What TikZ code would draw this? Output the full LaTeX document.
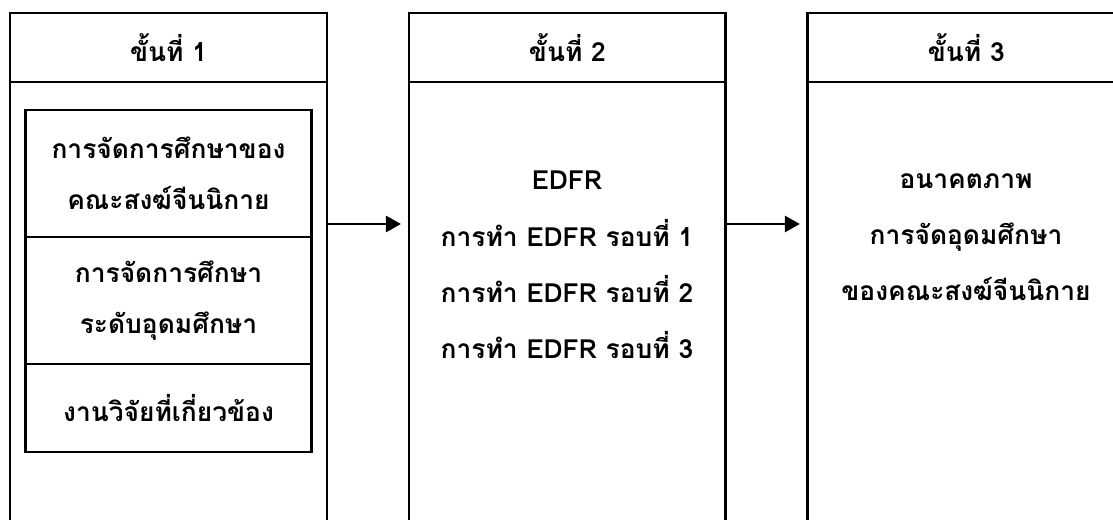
\documentclass[tikz,border=0pt]{standalone}
\usepackage{fontspec}
\setmainfont[Script=Thai]{Loma}
\usetikzlibrary{arrows.meta,positioning}
\tikzset{%
	header/.style = {draw, rectangle, outer sep=0pt, minimum width=6.34cm, minimum height=1.38cm},
	column/.style = {draw, rectangle, outer sep=0pt, minimum width=6.34cm, minimum height=9.6cm},
	topic/.style  = {draw, rectangle, outer sep=0pt, align=center, minimum width=5.72cm, minimum height=2.54cm,
		font=\fontsize{15}{29}\selectfont\bfseries}, % boxes in step 1
	note/.style   = {align=center, font=\fontsize{15}{32}\selectfont\bfseries},
	flow/.style   = {-{Triangle[length=0.3cm,width=0.32cm]}, shorten >=0.16cm},
}
\begin{document}
\begin{tikzpicture}[x=0.02cm, y=-0.02cm, line width=1.6pt, font=\fontsize{15}{18}\selectfont\bfseries]
	\clip (0,0) rectangle (1113,520);
	\useasboundingbox (0,0) rectangle (1113,520);
	% headers and columns
	\node[header] (h1) at (168.5,47.5) {ขั้นที่ 1};
	\node[column, below=0pt of h1] (c1) {};
	\node[header, right=1.64cm of h1] (h2) {ขั้นที่ 2};
	\node[column, below=0pt of h2] (c2) {};
	\node[header, right=1.64cm of h2] (h3) {ขั้นที่ 3};
	\node[column, below=0pt of h3] (c3) {};
	% step 1
	\node[topic, below=0.56cm of h1] (t1) {การจัดการศึกษาของ\\คณะสงฆ์จีนนิกาย};
	\node[topic, below=0pt of t1] (t2) {การจัดการศึกษา\\ระดับอุดมศึกษา};
	\node[topic, below=0pt of t2, minimum height=1.76cm] (t3) {งานวิจัยที่เกี่ยวข้อง};
	% step 2 and 3
	\node[note] (edfr) at (567,265) {EDFR\\การทำ EDFR รอบที่ 1\\การทำ EDFR รอบที่ 2\\การทำ EDFR รอบที่ 3};
	\node[note] (vision) at (966,237) {อนาคตภาพ\\การจัดอุดมศึกษา\\ของคณะสงฆ์จีนนิกาย};
	\coordinate (a1) at (0,224);
	\draw[flow] (c1.east |- a1) -- (c2.west |- a1);
	\draw[flow] (c2.east |- a1) -- (c3.west |- a1);
\end{tikzpicture}
\end{document}
